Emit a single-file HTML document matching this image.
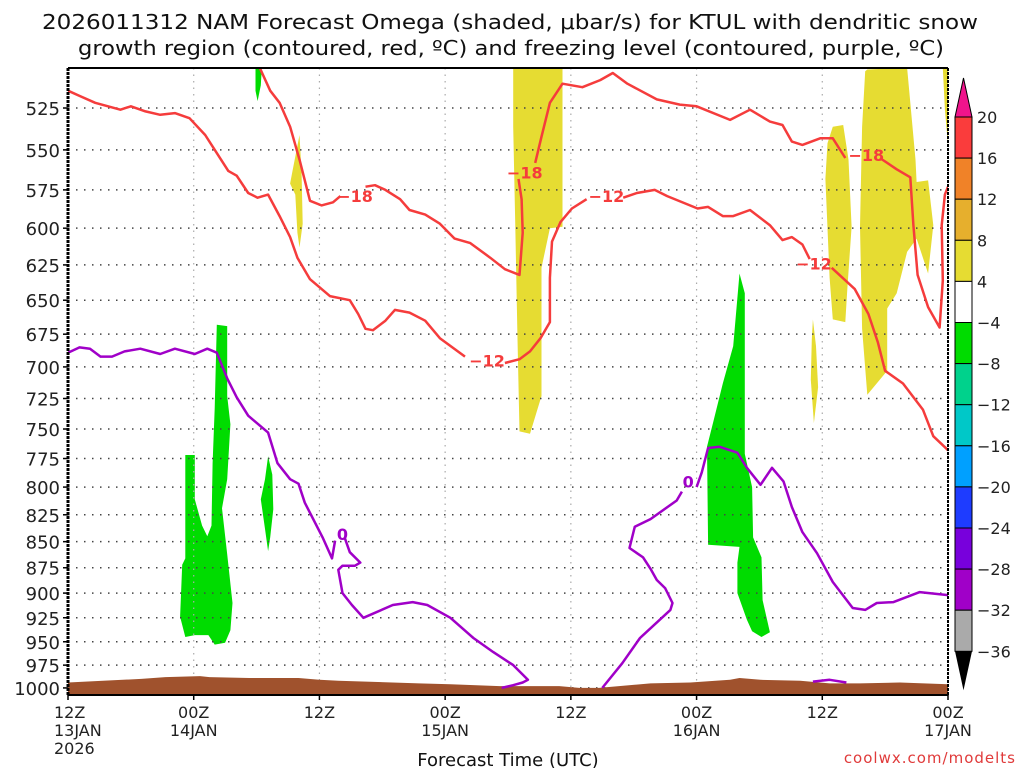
<!DOCTYPE html>
<html><head><meta charset="utf-8"><style>
html,body{margin:0;padding:0;background:#fff;width:1024px;height:768px;overflow:hidden}
svg{display:block;font-family:"DejaVu Sans","Liberation Sans",sans-serif}
</style></head><body>
<svg id="chart" width="1024" height="768" viewBox="0 0 1024 768" xmlns="http://www.w3.org/2000/svg">
<text x="42" y="29" textLength="936" lengthAdjust="spacingAndGlyphs" font-size="20" fill="#111">2026011312 NAM Forecast Omega (shaded, μbar/s) for KTUL with dendritic snow</text>
<text x="78" y="55" textLength="866" lengthAdjust="spacingAndGlyphs" font-size="20" fill="#111">growth region (contoured, red, ºC) and freezing level (contoured, purple, ºC)</text>
<g id="plot"></g>
<g id="cbar"></g>
<text x="508" y="766" text-anchor="middle" font-size="18" fill="#111">Forecast Time (UTC)</text>
<text x="1016" y="763" text-anchor="end" font-size="15" fill="#e03a3a" letter-spacing="1">coolwx.com/modelts</text>
</svg>
<script>
const pLevels=[525,550,575,600,625,650,675,700,725,750,775,800,825,850,875,900,925,950,975,1000];
const xTickHours=[0,12,24,36,48,60,72,84];
const xTickLabels=[["12Z","13JAN","2026"],["00Z","14JAN"],["12Z"],["00Z","15JAN"],["12Z"],["00Z","16JAN"],["12Z"],["00Z","17JAN"]];
const cbarLevels=[20,16,12,8,4,-4,-8,-12,-16,-20,-24,-28,-32,-36];
const cbarColors=["#fa3c3c","#f08228","#e6af2d","#e6dc32","#ffffff","#00dc00","#00d28c","#00c8c8","#00a0ff","#1e3cff","#7800dc","#a000c8","#aaaaaa"];
const groundH=[0,7,9.3,12.6,13.5,17.3,22,24,25.8,33.5,36.5,41.2,46.9,48.8,50.7,52.6,55.6,59.4,63.2,64.1,66.1,69.9,72.7,75.6,79.4,84];
const groundP=[994,990,988,987,988,989,989,991,992,995,996,998,998,1000,1000,998,995,994,991,989,991,992,995,995,994,996];
const green1=[[11.2,772],[12.1,772],[12.1,811],[12.8,835],[13.3,845],[13.7,835],[13.8,779],[14.0,733],[14.2,668],[15.2,669],[15.2,723],[15.5,746],[15.2,793],[14.7,819],[15.2,862],[15.7,910],[15.5,938],[15.0,951],[14.0,953],[13.4,943],[12.1,943],[11.2,945],[10.7,924],[10.9,872],[11.2,866]];
const green2=[[19.1,773],[19.5,789],[19.6,820],[19.3,846],[19.1,859],[18.8,838],[18.4,811],[18.8,793]];
const green3=[[17.9,502],[18.5,502],[18.4,512],[18.1,521],[17.9,515]];
const green4=[[64.1,631],[64.6,645],[64.6,771],[65.3,800],[65.4,846],[66.2,865],[66.3,907],[67.0,940],[66.2,945],[65.3,939],[64.8,927],[63.9,900],[63.9,870],[64.1,855],[61.1,853],[61.0,765],[61.6,744],[62.5,713],[63.5,684]];
const yellow1=[[22.1,541],[22.3,565],[22.4,597],[22.1,613],[21.9,603],[21.7,578],[21.2,571],[21.4,564]];
const yellow2=[[42.5,502],[47.2,502],[47.2,599],[46.0,600],[45.2,627],[45.2,723],[44.1,754],[43.1,752],[42.9,675],[42.7,599],[42.5,536]];
const yellow3=[[73.0,536],[74.0,535],[74.5,556],[74.8,599],[74.4,641],[74.2,666],[73.0,664],[72.7,634],[72.3,568],[72.5,546]];
const yellow4=[[76.3,503],[80.1,502],[80.9,556],[81.0,570],[82.1,569],[82.6,598],[82.1,631],[81.0,607],[80.1,616],[79.1,645],[78.2,656],[78.2,703],[76.3,722],[75.8,671],[75.6,599],[75.8,536],[76.1,504]];
const yellow5=[[71.1,664],[71.4,684],[71.6,716],[71.2,745],[70.9,710],[71.0,679]];
const yellow6=[[83.5,502],[84,502],[84,547],[83.7,526]];
const redA1=[[0,515],[1.1,518],[2.6,522],[5.0,526],[6.0,524],[7.4,527],[8.8,529],[10.2,528],[11.6,531],[13.1,541],[14.2,552],[15.3,563],[16.1,566],[17.2,577],[18.1,580],[19.1,578],[20.2,592],[21.2,606],[21.9,620],[23.1,635],[25.0,647],[26.9,650],[27.7,660],[28.4,671],[29.1,672],[30.3,665],[31.2,657],[32.6,659],[34.1,665],[35.5,678],[37.9,692]];
const redA2=[[41.7,697],[43.1,694],[44.1,688],[45.1,678],[46.0,666],[46.0,634],[46.2,609],[47.0,596],[48.1,587],[49.5,581]];
const redA3=[[53.0,580],[54.3,577],[56.0,575],[57.2,579],[60.1,587],[61.1,586],[62.5,592],[63.5,592],[65.1,588],[67.0,598],[68.2,608],[69.1,606],[70.1,611],[70.8,621]];
const redA4=[[72.9,627],[75.1,642],[76.4,660],[77.3,681],[78.0,703],[79.7,713],[81.6,734],[82.6,756],[83.9,767],[84,768]];
const redB1=[[18.3,502],[19.3,515],[20.2,522],[21.2,536],[22.1,556],[23.1,582],[24.2,585],[25.3,583],[26.0,579]];
const redB2=[[28.4,573],[29.3,572],[30.3,575],[31.7,581],[32.6,588],[34.1,591],[35.5,597],[36.9,607],[38.4,610],[40.3,620],[41.7,628],[43.1,632],[43.4,603],[43.3,581],[43.0,568]];
const redB3=[[44.6,558],[45.2,542],[46.0,522],[47.2,511],[49.1,513],[50.8,509],[52.0,505],[53.4,511],[56.2,520],[58.4,523],[60.0,524],[63.2,532],[65.1,526],[67.0,533],[68.2,535],[69.1,545],[70.1,547],[71.8,543],[73.0,543],[74.2,555]];
const redB4=[[77.5,555],[79.1,562],[80.4,567],[80.7,598],[81.1,632],[82.1,655],[83.2,670],[83.5,636],[83.4,598],[83.7,578],[84,573]];
const purp1=[[0,689],[1.1,685],[2.1,686],[3.1,692],[4.2,692],[5.4,688],[6.9,686],[8.8,690],[10.2,686],[12.1,690],[13.3,686],[14.2,689],[15.2,709],[16.1,724],[17.2,739],[19.1,753],[20.0,779],[21.2,793],[22.0,797],[22.6,814],[24.3,846],[25.2,866],[25.5,849]];
const purp2=[[26.4,846],[26.9,860],[27.9,870],[27.4,873],[26.2,873],[25.8,877],[26.2,900],[27.1,912],[28.2,925],[31.0,912],[32.9,909],[34.3,912],[36.5,925],[38.7,946],[40.6,961],[42.5,975],[43.9,991],[43.4,994],[42.5,997],[41.4,1000]];
const purp3=[[51.0,1000],[52.9,973],[54.6,946],[57.5,917],[57.7,910],[57.0,895],[56.2,887],[55.6,876],[54.9,865],[53.6,856],[54.1,836],[55.6,829],[58.1,812],[58.6,804]];
const purp4=[[60.0,800],[60.5,787],[61.1,766],[62.2,765],[63.9,770],[64.8,783],[66.1,798],[67.2,783],[68.3,795],[69.1,818],[70.1,841],[71.5,861],[73.0,889],[74.9,915],[76.1,917],[77.2,910],[78.8,909],[81.3,899],[84,902]];
const purp5=[[71.1,993],[72.7,991],[74.3,994]];
const labelsRed=[[27.4,579,"-18"],[40.0,695,"-12"],[43.6,564,"-18"],[51.4,579,"-12"],[71.2,624,"-12"],[76.2,553,"-18"]];
const labelsPurp=[[26.2,843,"0"],[59.2,795,"0"]];

const NS="http://www.w3.org/2000/svg";
const L=68,R=948,T=68,B=695;
function X(h){return L+h*(R-L)/84;}
function Y(p){return 108+900*Math.log(p/525);}
function mk(tag,attrs,parent){const e=document.createElementNS(NS,tag);for(const k in attrs)e.setAttribute(k,attrs[k]);parent.appendChild(e);return e;}
const plot=document.getElementById('plot');
const defs=mk('defs',{},plot);
const cp=mk('clipPath',{id:'clip'},defs);mk('rect',{x:L,y:T,width:R-L,height:B-T},cp);
const g=mk('g',{'clip-path':'url(#clip)'},plot);
function pts(a){return a.map(d=>X(d[0]).toFixed(1)+','+Y(d[1]).toFixed(1)).join(' ');}
const shades=[[green1,'#00dc00','omega-green-1'],[green2,'#00dc00','omega-green-2'],[green3,'#00dc00','omega-green-3'],[green4,'#00dc00','omega-green-4'],[yellow1,'#e6dc32','omega-yellow-1'],[yellow2,'#e6dc32','omega-yellow-2'],[yellow3,'#e6dc32','omega-yellow-3'],[yellow4,'#e6dc32','omega-yellow-4'],[yellow5,'#e6dc32','omega-yellow-5'],[yellow6,'#e6dc32','omega-yellow-6']];
shades.forEach(s=>{const e=mk('polygon',{points:pts(s[0]),fill:s[1]},g);

});
pLevels.forEach(p=>{const e=mk('line',{x1:L,x2:R,y1:Y(p),y2:Y(p),stroke:'#444','stroke-width':1.5,'stroke-dasharray':'1.5 6.5'},g);

});
xTickHours.forEach(h=>{if(h>0&&h<84){const e=mk('line',{x1:X(h),x2:X(h),y1:T,y2:B,stroke:'#aaa','stroke-width':1.2,'stroke-dasharray':'1.5 5'},g);

}});
const gp=groundH.map((h,i)=>[h,groundP[i]]);
const gpoly=gp.map(d=>X(d[0]).toFixed(1)+','+Y(d[1]).toFixed(1)).join(' ')+' '+R+','+B+' '+L+','+B;
const ge=mk('polygon',{points:gpoly,fill:'#a0522d'},g);


[[redA1,'red-contour-12a'],[redA2,'red-contour-12b'],[redA3,'red-contour-12c'],[redA4,'red-contour-12d'],[redB1,'red-contour-18a'],[redB2,'red-contour-18b'],[redB3,'red-contour-18c'],[redB4,'red-contour-18d']].forEach(c=>{
const e=mk('polyline',{points:pts(c[0]),fill:'none',stroke:'#f53c3c','stroke-width':2.5,'stroke-linejoin':'round'},g);

});
[[purp1,'freezing-level-a'],[purp2,'freezing-level-b'],[purp3,'freezing-level-c'],[purp4,'freezing-level-d'],[purp5,'freezing-level-e']].forEach(c=>{
const e=mk('polyline',{points:pts(c[0]),fill:'none',stroke:'#a000c8','stroke-width':2.5,'stroke-linejoin':'round'},g);

});
labelsRed.forEach(l=>{const e=mk('text',{x:X(l[0]),y:Y(l[1])+6,'text-anchor':'middle','font-size':16,'font-weight':'bold',fill:'#f53c3c'},g);e.textContent=l[2].replace('-','\u2212');

});
labelsPurp.forEach(l=>{const e=mk('text',{x:X(l[0]),y:Y(l[1])+6,'text-anchor':'middle','font-size':16,'font-weight':'bold',fill:'#a000c8'},g);e.textContent=l[2];

});
mk('line',{x1:L,x2:R,y1:T,y2:T,stroke:'#000','stroke-width':2},plot);
mk('line',{x1:L,x2:R,y1:B,y2:B,stroke:'#000','stroke-width':2},plot);
mk('line',{x1:L,x2:L,y1:T,y2:B,stroke:'#000','stroke-width':3,'stroke-dasharray':'3 1'},plot);
mk('line',{x1:R,x2:R,y1:T,y2:B,stroke:'#000','stroke-width':2,'stroke-dasharray':'3 1'},plot);
pLevels.forEach(p=>{const e=mk('text',{x:60,y:Y(p)+7,'text-anchor':'end','font-size':18,fill:'#222'},plot);e.textContent=p;


mk('line',{x1:L-5,x2:L,y1:Y(p),y2:Y(p),stroke:'#000','stroke-width':1.5},plot);});
xTickHours.forEach((h,i)=>{mk('line',{x1:X(h),x2:X(h),y1:B,y2:B+5,stroke:'#000','stroke-width':1.5},plot);
xTickLabels[i].forEach((t,j)=>{const e=mk('text',{x:(i==0?L-14:X(h)),y:718+j*18,'text-anchor':(i==0?'start':'middle'),'font-size':16,fill:'#222'},plot);e.textContent=t;

});});
const cb=document.getElementById('cbar');
const cx=955,cw=17,cy0=117,step=41.1;
mk('polygon',{points:`${cx},${cy0} ${cx+cw},${cy0} ${cx+cw/2},${cy0-39}`,fill:'#f0148c',stroke:'#000','stroke-width':1},cb);
cbarColors.forEach((c,i)=>{const e=mk('rect',{x:cx,y:cy0+i*step,width:cw,height:step,fill:c,stroke:'#000','stroke-width':1},cb);

});
const yb=cy0+cbarColors.length*step;
mk('polygon',{points:`${cx},${yb} ${cx+cw},${yb} ${cx+cw/2},${yb+39}`,fill:'#000'},cb);
cbarLevels.forEach((v,i)=>{const e=mk('text',{x:977,y:cy0+i*step+6,'font-size':16,fill:'#222'},cb);e.textContent=(v<0?'\u2212'+(-v):v);

});
</script>
</body></html>
